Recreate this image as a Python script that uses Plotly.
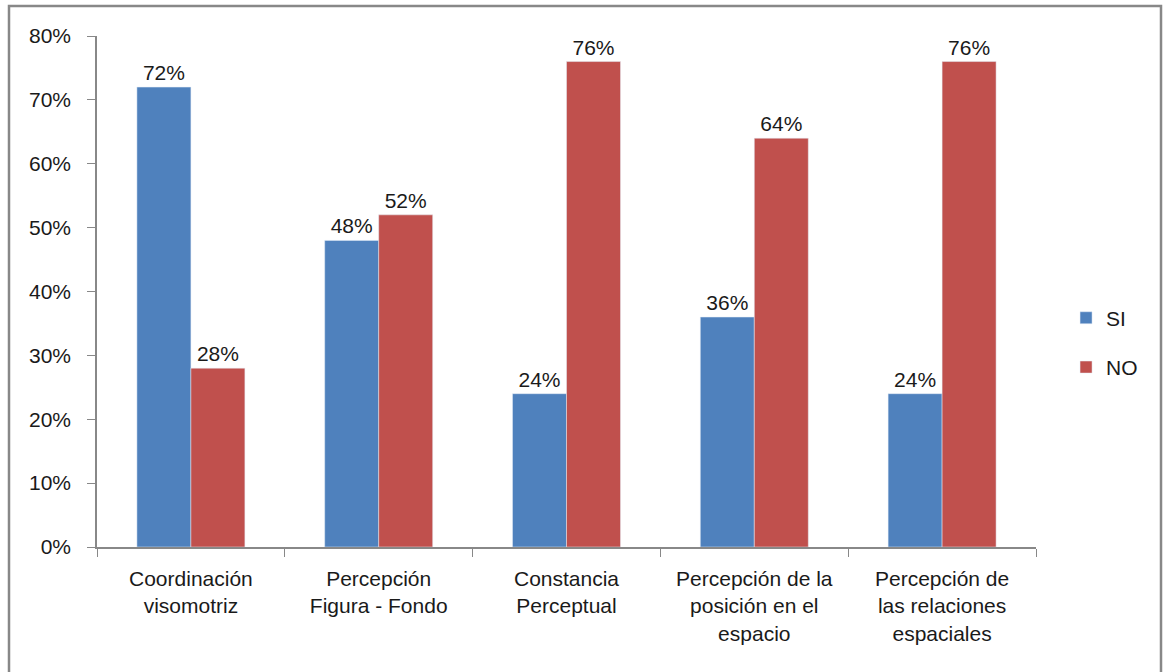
import plotly.graph_objects as go

categories = ["Coordinación<br>visomotriz", "Percepción<br>Figura - Fondo", "Constancia<br>Perceptual",
              "Percepción de la<br>posición en el<br>espacio", "Percepción de<br>las relaciones<br>espaciales"]
si_values = [0.72, 0.48, 0.24, 0.36, 0.24]
no_values = [0.28, 0.52, 0.76, 0.64, 0.76]
y_ticks = [0, 0.1, 0.2, 0.3, 0.4, 0.5, 0.6, 0.7, 0.8]

FONT = "Liberation Sans"
FS = 21
fig = go.Figure()
fig.add_trace(go.Bar(name="SI", x=categories, y=si_values, marker_color="#4F81BD",
                     text=[f"{v:.0%}" for v in si_values], textposition="outside",
                     cliponaxis=False, legendgroup="a"))
fig.add_trace(go.Bar(name="NO", x=categories, y=no_values, marker_color="#C0504D",
                     text=[f"{v:.0%}" for v in no_values], textposition="outside",
                     cliponaxis=False, legendgroup="b"))

fig.update_layout(
    width=1164, height=672, barmode="group", bargap=0.425, bargroupgap=0,
    paper_bgcolor="white", plot_bgcolor="white",
    margin=dict(l=97, r=128, t=36, b=125),
    font=dict(family=FONT, size=FS, color="#1a1a1a"),
    legend=dict(x=1.032, y=0.40, xanchor="left", yanchor="middle", tracegroupgap=19,
                font=dict(size=FS), itemwidth=30),
    xaxis=dict(showline=True, linecolor="#888", linewidth=1.5, ticks="outside",
               tickson="boundaries", ticklen=8, tickcolor="#888", tickfont=dict(size=FS),
               ticklabelstandoff=12),
    yaxis=dict(range=[0, 0.8], tickvals=y_ticks, tickformat=".0%", showgrid=False,
               showline=True, linecolor="#888", linewidth=1.5, ticks="outside",
               ticklen=8, tickcolor="#888", zeroline=False, tickfont=dict(size=FS),
               ticklabelstandoff=12),
    uniformtext=dict(minsize=FS, mode="show"),
    shapes=[dict(type="rect", xref="paper", yref="paper",
                 x0=(9 - 97) / 939, x1=(1161 - 97) / 939,
                 y0=(547 - 690) / 511, y1=(547 - 6) / 511,
                 line=dict(color="#888", width=2.5))],
)
fig.update_traces(textfont=dict(size=FS, family=FONT, color="#1a1a1a"))
fig.write_html("out.html", config={"displayModeBar": False},
               post_script="document.body.style.margin='0';document.body.style.overflow='hidden';")
